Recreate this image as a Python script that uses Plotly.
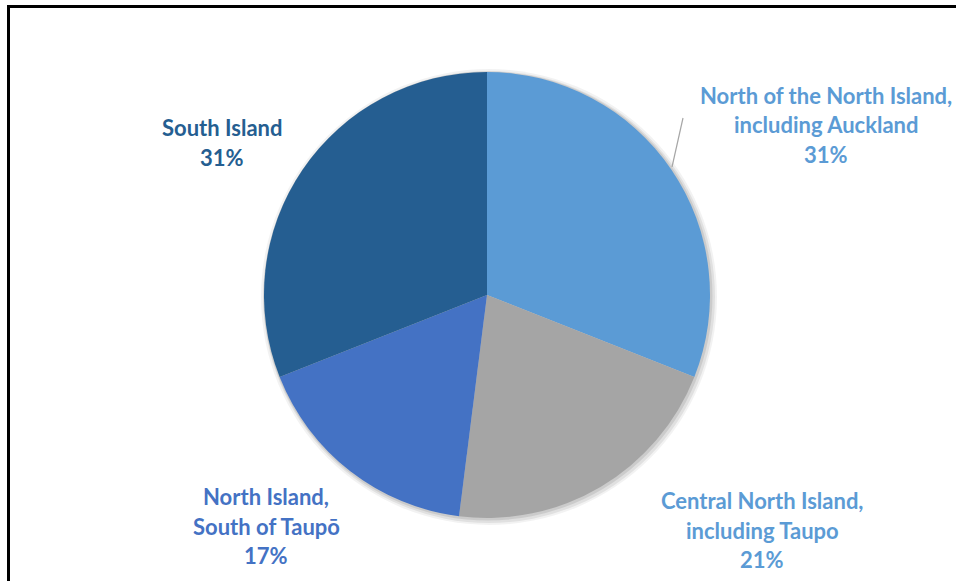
import plotly.graph_objects as go

# Regional share of respondents
regions = [
    "North of the North Island,<br>including Auckland",
    "Central North Island,<br>including Taupo",
    "North Island,<br>South of Taupō",
    "South Island",
]
shares = [31, 21, 17, 31]
colors = ["#5B9BD5", "#A5A5A5", "#4472C4", "#255E91"]
label_colors = ["#5B9BD5", "#5B9BD5", "#4472C4", "#255E91"]

W, H = 956, 581
cx, cy, r = 487, 295, 223  # pie centre / radius in pixels

fig = go.Figure()
fig.add_trace(go.Pie(
    labels=regions,
    values=shares,
    marker=dict(colors=colors, line=dict(width=0)),
    sort=False,
    direction="clockwise",
    rotation=0,
    textinfo="none",
    hoverinfo="label+percent",
    showlegend=False,
    domain=dict(x=[(cx - r) / W, (cx + r) / W],
                y=[(H - cy - r) / H, (H - cy + r) / H]),
))

shapes = []
# soft outer shadow behind the pie
for grow, off, op in [(5, 2, 0.05), (3, 2, 0.07), (1.5, 1, 0.09)]:
    rr = r + grow
    shapes.append(dict(
        type="circle", xref="paper", yref="paper", layer="below",
        x0=(cx + off - rr) / W, x1=(cx + off + rr) / W,
        y0=(H - cy - off - rr) / H, y1=(H - cy - off + rr) / H,
        fillcolor=f"rgba(0,0,0,{op})", line=dict(width=0),
    ))
# frame around the chart area
shapes.append(dict(
    type="rect", xref="paper", yref="paper",
    x0=8.5 / W, x1=1.2, y0=-0.2, y1=(H - 6.5) / H,
    line=dict(color="black", width=3), fillcolor="rgba(0,0,0,0)",
))
# leader line for the first slice label
shapes.append(dict(
    type="line", xref="paper", yref="paper",
    x0=683 / W, y0=(H - 118) / H, x1=672 / W, y1=(H - 167) / H,
    line=dict(color="#A6A6A6", width=1.2),
))

# label blocks: (slice index, centre x, first line y) in pixels
label_pos = [(0, 826, 95.5), (1, 762, 500.5), (2, 266, 496.5), (3, 222, 127.5)]
annotations = []
for i, x, y0 in label_pos:
    lines = regions[i].split("<br>") + [f"{shares[i]}%"]
    for k, line in enumerate(lines):
        annotations.append(dict(
            text=f"<b>{line}</b>", showarrow=False,
            xref="paper", yref="paper",
            x=x / W, y=(H - (y0 + 29.5 * k)) / H,
            xanchor="center", yanchor="middle",
            font=dict(family="Lato", size=22, color=label_colors[i]),
        ))

fig.update_layout(
    width=W, height=H,
    margin=dict(l=0, r=0, t=0, b=0),
    paper_bgcolor="white", plot_bgcolor="white",
    shapes=shapes, annotations=annotations,
)

fig.write_html("out.html")
